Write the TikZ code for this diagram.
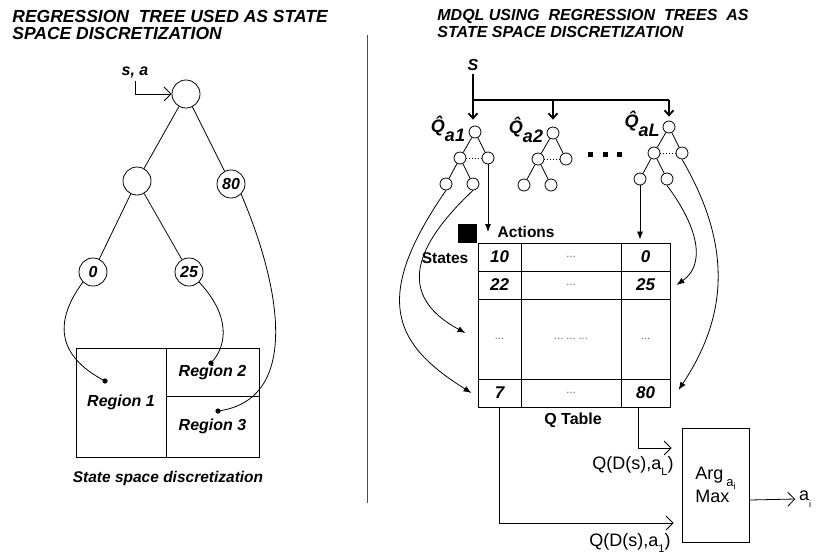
\documentclass[tikz,border=0pt]{standalone}
\usepackage{fontspec}
\setmainfont{Liberation Sans}
\usetikzlibrary{arrows.meta}
\tikzset{
  heading/.style={font=\bfseries\itshape\fontsize{16}{17}\selectfont,align=left,anchor=north west,inner sep=0pt},
  bignode/.style={circle,draw,minimum size=28pt,inner sep=0pt,font=\bfseries\itshape\fontsize{16}{16}\selectfont},
  tnode/.style={circle,draw,minimum size=12pt,inner sep=0pt},
  lab/.style={font=\bfseries\itshape\fontsize{16}{16}\selectfont},
  qlab/.style={font=\bfseries\itshape\fontsize{18}{18}\selectfont,inner sep=0pt},
  blab/.style={font=\bfseries\fontsize{15.5}{16}\selectfont},
  plab/.style={font=\fontsize{18}{18}\selectfont},
  region/.style={draw,inner sep=0pt,font=\bfseries\itshape\fontsize{16}{16}\selectfont},
  cell/.style={draw,line width=1pt,inner sep=0pt,font=\bfseries\itshape\fontsize{17}{17}\selectfont},
  dcell/.style={cell,font=\fontsize{11}{11}\selectfont,text=black!60},
  feed/.style={-{Straight Barb[length=5pt,width=9pt]},line width=1.8pt},
  barb/.style={-{Straight Barb[length=7pt,width=14pt]}},
  filltip/.style={-{Latex[length=8pt,width=6pt]}},
}
\newcommand{\lowsub}[1]{\raisebox{-0.7ex}{\fontsize{13}{13}\selectfont #1}}
\begin{document}
\begin{tikzpicture}[x=1pt,y=-1pt,line width=0.8pt]
\useasboundingbox (0,0) rectangle (816,558);
\node[heading,font=\bfseries\itshape\fontsize{17.5}{17}\selectfont] (lt) at (12,10) {REGRESSION\ \ TREE USED AS STATE\\SPACE DISCRETIZATION};
\node[heading] (rt) at (437,9) {MDQL USING\ \ REGRESSION\ \ TREES\ \ AS\\STATE SPACE DISCRETIZATION};
\draw[black!70] (367,35) -- (367,503);

\node[lab] (sa) at (135,72) {s, a};
\node[bignode] (root) at (186,94) {};
\node[bignode] (mid) at (137,181) {};
\node[bignode] (n80) at (231,184) {80};
\node[bignode] (n0) at (93,272) {0};
\node[bignode] (n25) at (189,272) {25};
\draw[barb] (sa.south) |- (root.west);
\draw (root) -- (mid) (root) -- (n80) (mid) -- (n0) (mid) -- (n25);

\node[region,minimum width=90pt,minimum height=109pt] (reg1) at (121,402.5) {Region 1};
\node[region,minimum width=93pt,minimum height=48pt] (reg2) at (212.5,372) {Region 2};
\node[region,minimum width=93pt,minimum height=61pt] (reg3) at (212.5,426.5) {Region 3};
\coordinate (d1) at (105,381);
\coordinate (d2) at (211,363);
\coordinate (d3) at (218,411);
\draw (n0.south west) .. controls (55,320) and (55,355) .. (d1);
\draw (n25.south east) .. controls (230,315) and (228,345) .. (d2);
\draw (n80.south east) .. controls (282,290) and (300,400) .. (d3);
\fill (d1) circle (2.6pt) (d2) circle (2.6pt) (d3) circle (2.6pt);
\node[lab,font=\bfseries\itshape\fontsize{15.5}{16}\selectfont] (ssd) at (168,478) {State space discretization};

\node[lab] (S) at (473,65) {S};
\foreach \k/\x/\y in {1/475/132, 2/553/133, L/669/127} {
  \node[tnode] (t\k a) at (\x,\y) {};
  \node[tnode] (t\k b) at (\x-15,\y+26) {};
  \node[tnode] (t\k c) at (\x+13,\y+26) {};
  \node[tnode] (t\k d) at (\x-29,\y+52) {};
  \node[tnode] (t\k e) at (\x-2,\y+52) {};
  \draw (t\k a) -- (t\k b) (t\k a) -- (t\k c) (t\k b) -- (t\k d) (t\k b) -- (t\k e);
  \draw[dotted,line width=1pt] (t\k b) -- (t\k c);
  \node[qlab] (q\k) at (\x-27,\y-3) {\^{Q}\raisebox{-1ex}{a\k}};
}
\coordinate (fork) at (473,100);
\draw[feed,shorten >=6pt] (S.south) -- (S.south |- t1a.north);
\draw[line width=1.8pt] (fork) -- (fork -| tLa);
\draw[feed,shorten >=7pt] (fork -| t2a) -- (t2a.north);
\draw[feed,shorten >=4pt] (fork -| tLa) -- (tLa.north);
\foreach \x in {588,603,617} \fill (\x,152) rectangle ++(5,5);

\node[cell,minimum width=43pt,minimum height=28pt] (c11) at (499.5,257) {10};
\node[dcell,minimum width=100pt,minimum height=28pt] (c12) at (571,257) {...};
\node[cell,minimum width=49pt,minimum height=28pt] (c13) at (645.5,257) {0};
\node[cell,minimum width=43pt,minimum height=28pt] (c21) at (499.5,285) {22};
\node[dcell,minimum width=100pt,minimum height=28pt] (c22) at (571,285) {...};
\node[cell,minimum width=49pt,minimum height=28pt] (c23) at (645.5,285) {25};
\node[dcell,minimum width=43pt,minimum height=80pt] (c31) at (499.5,339) {...};
\node[dcell,minimum width=100pt,minimum height=80pt] (c32) at (571,339) {...\ ...\ ...};
\node[dcell,minimum width=49pt,minimum height=80pt] (c33) at (645.5,339) {...};
\node[cell,minimum width=43pt,minimum height=28pt] (c41) at (499.5,393) {7};
\node[dcell,minimum width=100pt,minimum height=28pt] (c42) at (571,393) {...};
\node[cell,minimum width=49pt,minimum height=28pt] (c43) at (645.5,393) {80};
\node[fill,minimum size=19pt,inner sep=0pt] (blk) at (467.5,233) {};
\node[blab,anchor=east] (states) at (472,258) {States};
\node[blab,anchor=west] (actions) at (494,232) {Actions};
\node[blab,font=\bfseries\fontsize{16}{16}\selectfont] (qtab) at (573,420) {Q Table};

\draw[filltip] (t1c.south) -- (t1c.south |- actions.center);
\draw[filltip] (t1d.south) .. controls (370,300) and (395,345) .. ([xshift=-6pt]c41.west);
\draw[filltip] (t1e.south) .. controls (415,245) and (395,295) .. ([xshift=-12pt,yshift=6pt]c31.west);
\draw[filltip,shorten >=3pt] (tLd.south) -- (tLd.south |- c13.north);
\draw[filltip] (tLe.south) .. controls (700,230) and (705,265) .. ([xshift=6pt]c23.east);
\draw[filltip] (tLc.south) .. controls (735,250) and (725,320) .. ([xshift=8pt,yshift=3pt]c43.east);

\node[draw,minimum width=67pt,minimum height=114pt,plab,align=left] (argmax) at (715.5,485) {Arg\,\lowsub{a\raisebox{-0.5ex}{\fontsize{9}{9}\selectfont i}}\\Max};
\node[plab] (qL) at (633,466) {Q(D(s),a\lowsub{\fontsize{11}{11}\selectfont L})};
\node[plab] (q1) at (630,543) {Q(D(s),a\lowsub{\fontsize{11}{11}\selectfont 1})};
\node[plab] (ai) at (805,499) {a\lowsub{\fontsize{9}{9}\selectfont i}};
\draw[barb] (c41.south) |- ([xshift=-8pt,yshift=-38pt]argmax.west);
\draw[barb] ([xshift=-7pt]c43.south) |- ([xshift=-10pt,yshift=37pt]argmax.west);
\draw[barb] ([yshift=-15pt]argmax.east) -- (ai.west);
\end{tikzpicture}
\end{document}
